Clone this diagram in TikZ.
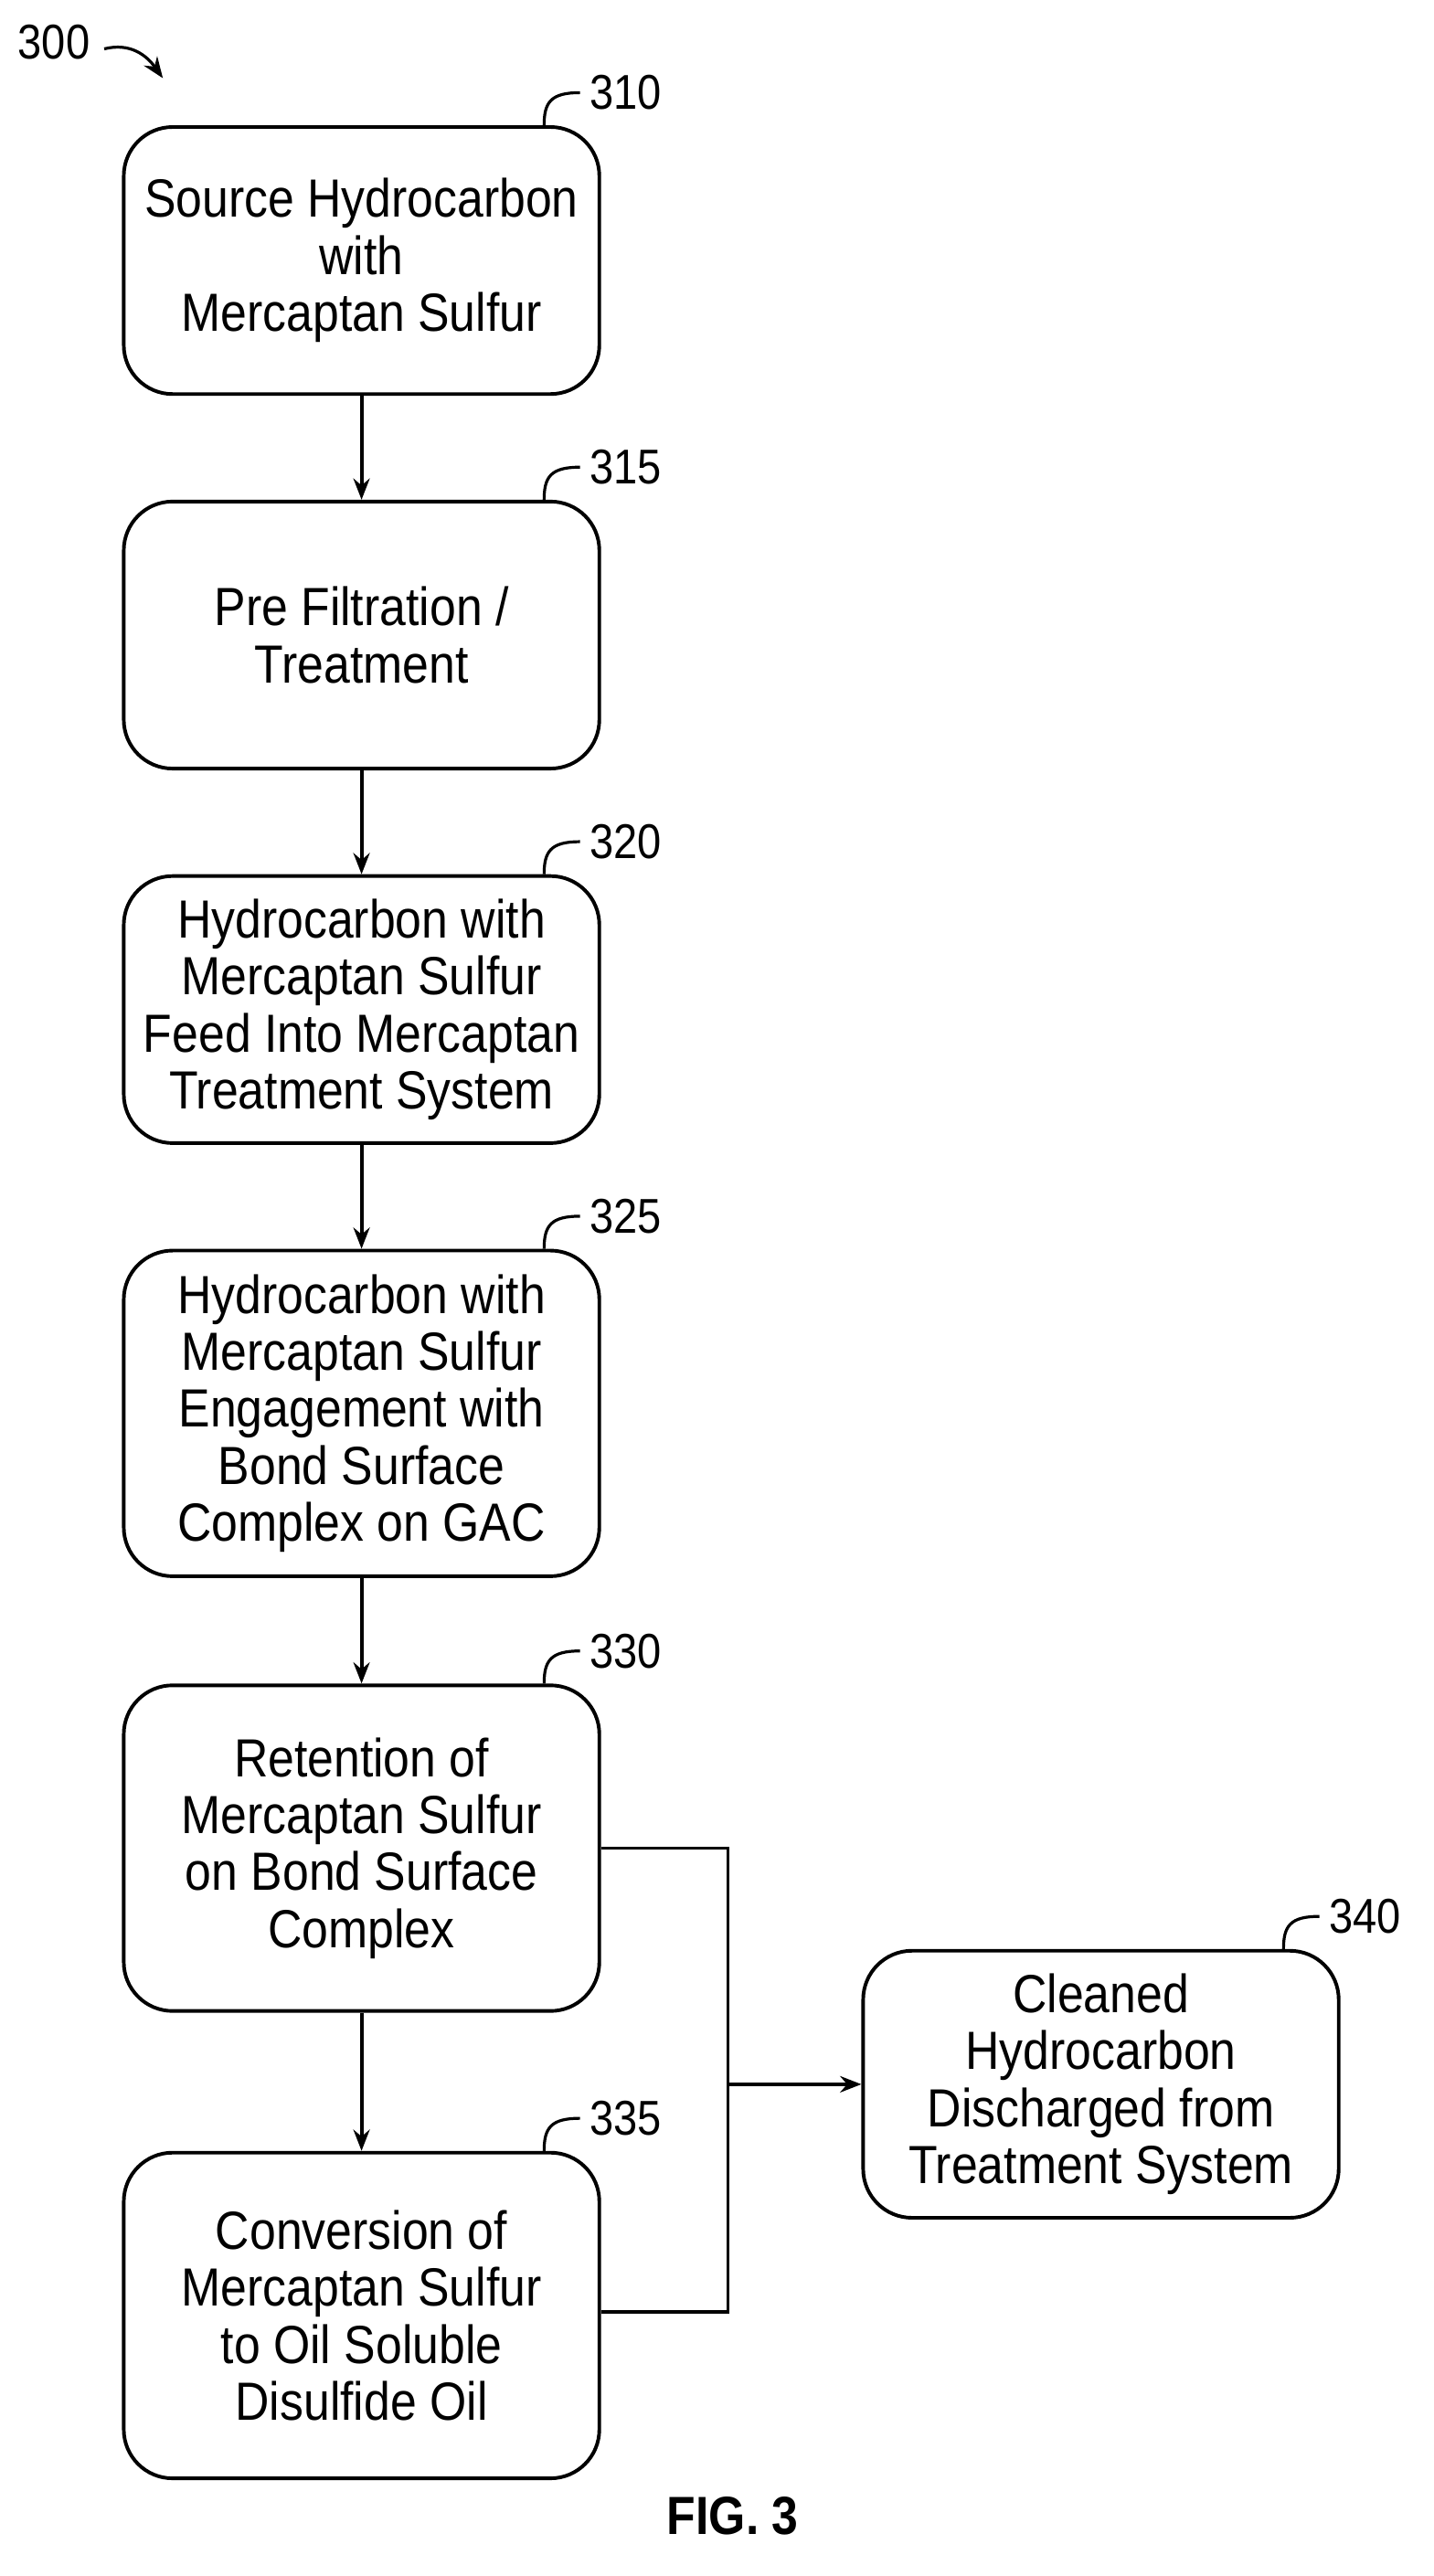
\documentclass[tikz,border=0pt]{standalone}
\usepackage{fontspec}
\setmainfont[FakeStretch=0.88]{Liberation Sans}
\usetikzlibrary{arrows.meta,calc}
\begin{document}
\begin{tikzpicture}[x=1pt,y=-1pt,line width=2.2pt,
box/.style={draw,rounded corners=30pt,minimum width=292pt,align=center,font=\fontsize{33}{35}\selectfont,inner sep=0pt},
lbl/.style={font=\fontsize{30}{30}\selectfont,anchor=west,inner sep=0pt},
arr/.style={-{Stealth[length=13pt,width=10pt]}}]
\useasboundingbox (0,0) rectangle (880,1582);
\node[box,minimum height=164pt] (b310) at (222,160) {Source Hydrocarbon\\with\\Mercaptan Sulfur};
\node[box,minimum height=164pt] (b315) at (222,390) {Pre Filtration /\\Treatment};
\node[box,minimum height=164pt] (b320) at (222,620) {Hydrocarbon with\\Mercaptan Sulfur\\Feed Into Mercaptan\\Treatment System};
\node[box,minimum height=200pt] (b325) at (222,868) {Hydrocarbon with\\Mercaptan Sulfur\\Engagement with\\Bond Surface\\Complex on GAC};
\node[box,minimum height=200pt] (b330) at (222,1135) {Retention of\\Mercaptan Sulfur\\on Bond Surface\\Complex};
\node[box,minimum height=200pt] (b335) at (222,1422) {Conversion of\\Mercaptan Sulfur\\to Oil Soluble\\Disulfide Oil};
\node[box,minimum height=164pt] (b340) at (676,1280) {Cleaned\\Hydrocarbon\\Discharged from\\Treatment System};
\draw[arr] (b310) -- (b315);
\draw[arr] (b315) -- (b320);
\draw[arr] (b320) -- (b325);
\draw[arr] (b325) -- (b330);
\draw[arr] (b330) -- (b335);
\coordinate (j) at (447,1280);
\draw (b330.east) -| (447,1420) -- (b335.east |- 0,1420);
\draw[arr] (j) -- (b340.west);
\foreach \n/\t in {b310/310,b315/315,b320/320,b325/325,b330/330,b335/335,b340/340}{
  \coordinate (c\n) at ($(\n.north east)+(-35,0)$);
  \node[lbl] (l\n) at ($(c\n)+(27,-20)$) {\t};
  \draw[line width=1.8pt] (c\n) .. controls ($(c\n)+(0,-14)$) and ($(c\n)+(4,-20)$) .. ($(c\n)+(22,-20)$);
}
\node[lbl] (l300) at (10,26) {300};
\coordinate (t300) at (100,48);
\draw[line width=1.8pt,arr] (64,30) .. controls (80,26) and (90,34) .. (t300);
\node[font=\bfseries\fontsize{33}{34}\selectfont] (fig) at (450,1545) {FIG. 3};
\end{tikzpicture}
\end{document}
